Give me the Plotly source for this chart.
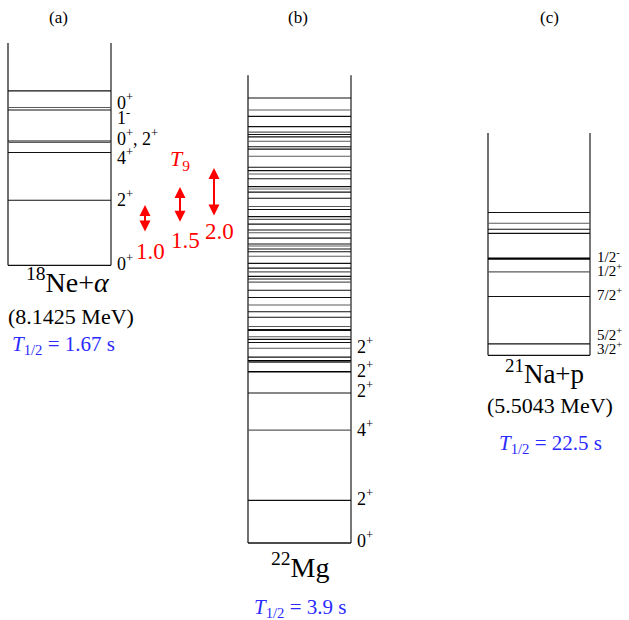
import plotly.graph_objects as go

# ---------------- data (excitation energies in 22Mg, MeV) ----------------
# (a) 18Ne + alpha
ne_threshold = 8.1425
ne_top = 14.66
ne_levels = [13.26, 12.77, 12.70, 11.79, 11.745, 11.45, 10.05]
ne_spins = ["0<sup>+</sup>", "1<sup>-</sup>", "0<sup>+</sup>, 2<sup>+</sup>", "4<sup>+</sup>", "2<sup>+</sup>", "0<sup>+</sup>"]
ne_spin_E = [12.96, 12.50, 11.88, 11.32, 10.09, 8.24]

# (b) 22Mg
mg_ground = 0.0
mg_top = 13.72
mg_levels = [13.05, 12.70, 12.51, 12.21, 12.05, 11.98, 11.91, 11.78, 11.62, 11.55,
             11.34, 11.02, 10.92, 10.82, 10.68, 10.45, 10.38, 10.29, 10.11, 9.87,
             9.78, 9.57, 9.49, 9.35, 9.18, 9.10, 8.94, 8.77, 8.71, 8.62,
             8.54, 8.41, 8.20, 8.06, 7.95, 7.82, 7.74, 7.65, 7.41, 7.20,
             6.98, 6.78, 6.62, 6.35, 6.26, 6.23, 6.05, 5.97, 5.88, 5.71,
             5.45, 4.40, 3.31, 1.25]
mg_thick_levels = [5.34, 5.30, 5.02]
mg_spins = ["2<sup>+</sup>", "2<sup>+</sup>", "2<sup>+</sup>", "4<sup>+</sup>", "2<sup>+</sup>", "0<sup>+</sup>"]
mg_spin_E = [5.78, 5.10, 4.49, 3.37, 1.32, 0.09]

# (c) 21Na + p
na_threshold = 5.5043
na_top = 12.02
na_levels = [9.69, 9.375, 9.20, 9.08, 7.95, 7.23, 5.84]
na_thick_levels = [8.34]
na_spins = ["1/2<sup>-</sup>", "1/2<sup>+</sup>", "7/2<sup>+</sup>", "5/2<sup>+</sup>", "3/2<sup>+</sup>"]
na_spin_E = [8.42, 8.00, 7.29, 6.12, 5.71]

# Gamow windows (T9 -> energy range)
t9_values = ["1.0", "1.5", "2.0"]
gamow_low = [9.09, 9.38, 9.56]
gamow_high = [9.91, 10.44, 11.00]

# ---------------- layout constants ----------------
PX_PER_MEV = 34.1
ZERO_PX = 543
W, H = 629, 620
E_top = ZERO_PX / PX_PER_MEV
E_bot = (ZERO_PX - H) / PX_PER_MEV

SERIF = "Times New Roman, Liberation Serif, serif"
BLUE = "#2b2bff"
RED = "#ff0000"

fig = go.Figure()
shapes = []
annotations = []


def box(x0, x1, bottom, top):
    shapes.append(dict(type="line", xref="x", yref="y", x0=x0, x1=x0, y0=bottom, y1=top,
                       line=dict(color="#222222", width=1.3)))
    shapes.append(dict(type="line", xref="x", yref="y", x0=x1, x1=x1, y0=bottom, y1=top,
                       line=dict(color="#555555", width=1.6)))
    shapes.append(dict(type="line", xref="x", yref="y", x0=x0, x1=x1, y0=bottom, y1=bottom,
                       line=dict(color="#111111", width=1.3)))


def levels(x0, x1, energies, width=1.1, color="#111111"):
    for i, e in enumerate(energies):
        c = color if (i % 3 != 1) else "#5a5a5a"
        shapes.append(dict(type="line", xref="x", yref="y", x0=x0, x1=x1, y0=e, y1=e,
                           line=dict(color=c, width=width)))


def label(x, y, text, size=18, color="black", xanchor="left"):
    annotations.append(dict(x=x, y=y, xref="x", yref="y", text=text, showarrow=False,
                            xanchor=xanchor, yanchor="middle",
                            font=dict(family=SERIF, size=size, color=color)))


# panel (a)
ax0, ax1 = 8, 111
box(ax0, ax1, ne_threshold, ne_top)
levels(ax0, ax1, ne_levels)
for t, e in zip(ne_spins, ne_spin_E):
    label(ax1 + 4, e, t)

# panel (b)
bx0, bx1 = 248, 351
box(bx0, bx1, mg_ground, mg_top)
levels(bx0, bx1, mg_levels)
levels(bx0, bx1, mg_thick_levels, width=1.6, color="#000000")
for t, e in zip(mg_spins, mg_spin_E):
    label(bx1 + 4, e, t)

# panel (c)
cx0, cx1 = 488, 590
box(cx0, cx1, na_threshold, na_top)
levels(cx0, cx1, na_levels)
levels(cx0, cx1, na_thick_levels, width=2.2, color="#000000")
for t, e in zip(na_spins, na_spin_E):
    label(cx1 + 5, e, t, size=15)

# titles
for x, t in [(58, "(a)"), (298, "(b)"), (549, "(c)")]:
    label(x, (ZERO_PX - 17) / PX_PER_MEV, t, size=17, xanchor="center")

# nucleus names
label(68, (ZERO_PX - 280) / PX_PER_MEV, "<sup>18</sup>Ne+<i>α</i>", size=28, xanchor="center")
label(71, (ZERO_PX - 316) / PX_PER_MEV, "(8.1425 MeV)", size=22, xanchor="center")
label(63, (ZERO_PX - 345) / PX_PER_MEV, "<i>T</i><sub>1/2</sub> = 1.67 s", size=21, color=BLUE, xanchor="center")

label(300, (ZERO_PX - 565) / PX_PER_MEV, "<sup>22</sup>Mg", size=28, xanchor="center")
label(300, (ZERO_PX - 608) / PX_PER_MEV, "<i>T</i><sub>1/2</sub> = 3.9 s", size=21, color=BLUE, xanchor="center")

label(544, (ZERO_PX - 372) / PX_PER_MEV, "<sup>21</sup>Na+p", size=27, xanchor="center")
label(550, (ZERO_PX - 405) / PX_PER_MEV, "(5.5043 MeV)", size=22, xanchor="center")
label(550, (ZERO_PX - 444) / PX_PER_MEV, "<i>T</i><sub>1/2</sub> = 22.5 s", size=21, color=BLUE, xanchor="center")

# Gamow windows
label(180, (ZERO_PX - 160) / PX_PER_MEV, "<i>T</i><sub>9</sub>", size=22, color=RED, xanchor="center")
arrow_x = [145, 180, 214]
label_dx = [5, 5, 5]
label_dy_px = [18, 17, 14]
for xa, lo, hi, t, dx, dy in zip(arrow_x, gamow_low, gamow_high, t9_values, label_dx, label_dy_px):
    annotations.append(dict(x=xa, y=hi, ax=xa, ay=lo, xref="x", yref="y", axref="x", ayref="y",
                            text="", showarrow=True, arrowhead=2, startarrowhead=2,
                            arrowside="end+start", arrowsize=1.1, startarrowsize=1.1,
                            arrowwidth=2, arrowcolor=RED, standoff=0, startstandoff=0))
    label(xa + dx, lo - dy / PX_PER_MEV, t, size=23, color=RED, xanchor="center")

fig.update_layout(
    width=W, height=H,
    margin=dict(l=0, r=0, t=0, b=0),
    font=dict(family=SERIF),
    paper_bgcolor="white", plot_bgcolor="white",
    xaxis=dict(range=[0, W], visible=False, fixedrange=True),
    yaxis=dict(range=[E_bot, E_top], visible=False, fixedrange=True),
    shapes=shapes, annotations=annotations, showlegend=False,
)

fig.write_html("out.html")
